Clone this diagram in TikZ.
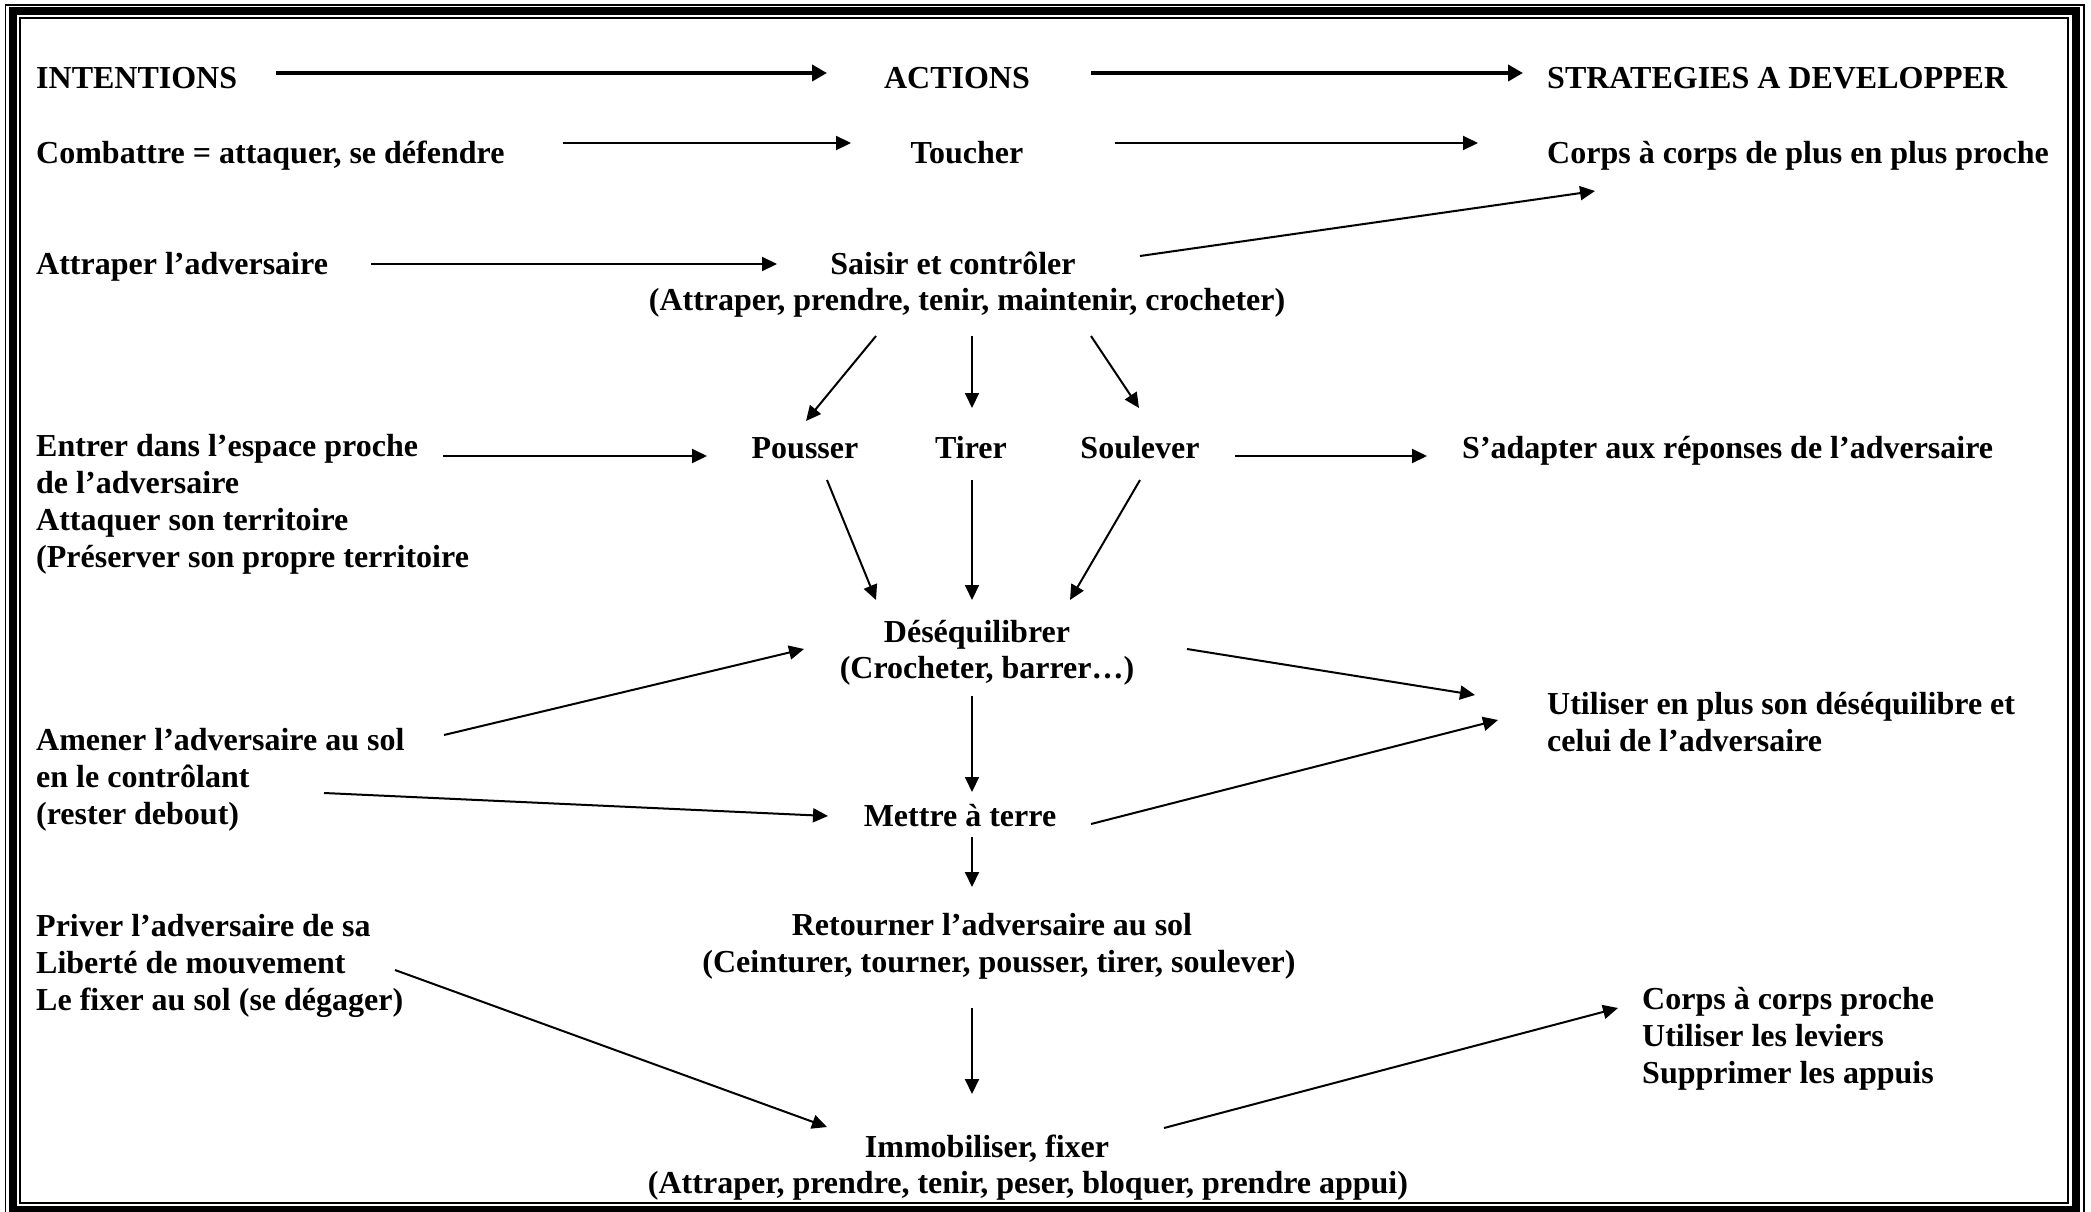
\documentclass[tikz,border=0pt]{standalone}
\usepackage{fontspec}
\setmainfont{Liberation Serif}
\usetikzlibrary{arrows.meta}
\begin{document}
\begin{tikzpicture}[x=1pt,y=-1pt,
  txt/.style={inner sep=0pt, font=\fontsize{32}{36.7}\selectfont\bfseries},
  lft/.style={txt, anchor=base west, align=left},
  ctr/.style={txt, anchor=base},
  arr/.style={line width=2pt, -{Triangle[length=15pt,width=14pt]}},
  bigarr/.style={line width=4.5pt, -{Triangle[length=15pt,width=16pt]}},
  frameline/.style={draw=black}]
\useasboundingbox (0,0) rectangle (2091,1212);
\clip (0,0) rectangle (2091,1212);
% frame
\draw[frameline, line width=1.8pt] (5.5,5) rectangle (2084,1230);
\draw[frameline, line width=8pt] (13,11.5) rectangle (2076,1210);
\draw[frameline, line width=2pt] (20,18) rectangle (2068,1203);
% texts (multi-line nodes: base anchor = baseline of last line)
\node[lft] (int) at (36,89) {INTENTIONS};
\node[ctr] (act) at (957,89) {ACTIONS};
\node[lft] (strat) at (1547,89) {STRATEGIES A DEVELOPPER};
\node[lft] (comb) at (36,164) {Combattre = attaquer, se défendre};
\node[ctr] (touch) at (967,164) {Toucher};
\node[lft] (corps1) at (1547,164) {Corps à corps de plus en plus proche};
\node[lft] (attr) at (36,274) {Attraper l’adversaire};
\node[ctr] (saisir) at (953,274) {Saisir et contrôler};
\node[ctr] (saisir2) at (967,310) {(Attraper, prendre, tenir, maintenir, crocheter)};
\node[lft] (entrer) at (36,567) {Entrer dans l’espace proche\\de l’adversaire\\Attaquer son territoire\\(Préserver son propre territoire};
\node[ctr] (pous) at (805,458) {Pousser};
\node[ctr] (tirer) at (971,458) {Tirer};
\node[ctr] (soul) at (1140,458) {Soulever};
\node[lft] (adapt) at (1462,458) {S’adapter aux réponses de l’adversaire};
\node[ctr] (deseq) at (977,642) {Déséquilibrer};
\node[ctr] (deseq2) at (987,678) {(Crocheter, barrer…)};
\node[lft] (util) at (1547,751) {Utiliser en plus son déséquilibre et\\celui de l’adversaire};
\node[lft] (amener) at (36,824) {Amener l’adversaire au sol\\en le contrôlant\\(rester debout)};
\node[ctr] (mettre) at (960,826) {Mettre à terre};
\node[ctr] (retour) at (992,935) {Retourner l’adversaire au sol};
\node[ctr] (retour2) at (999,972) {(Ceinturer, tourner, pousser, tirer, soulever)};
\node[lft] (priver) at (36,1010) {Priver l’adversaire de sa\\Liberté de mouvement\\Le fixer au sol (se dégager)};
\node[ctr] (immo) at (987,1157) {Immobiliser, fixer};
\node[ctr] (immo2) at (1028,1193) {(Attraper, prendre, tenir, peser, bloquer, prendre appui)};
\node[lft] (corps2) at (1642,1083) {Corps à corps proche\\Utiliser les leviers\\Supprimer les appuis};
% arrows
\draw[bigarr] ([xshift=240pt,yshift=16pt]int.base west) -- ([xshift=-130pt,yshift=16pt]act.base);
\draw[bigarr] ([xshift=134pt,yshift=16pt]act.base) -- ([xshift=-24pt,yshift=16pt]strat.base west);
\draw[arr] ([xshift=527pt,yshift=21pt]comb.base west) -- ([xshift=-116pt,yshift=21pt]touch.base);
\draw[arr] ([xshift=148pt,yshift=21pt]touch.base) -- ([xshift=-69pt,yshift=21pt]corps1.base west);
\draw[arr] ([xshift=335pt,yshift=10pt]attr.base west) -- ([xshift=-176pt,yshift=10pt]saisir.base);
\draw[arr] ([xshift=187pt,yshift=18pt]saisir.base) -- ([xshift=48pt,yshift=-27pt]corps1.base west);
\draw[arr] ([xshift=-91pt,yshift=-26pt]saisir2.base) -- ([xshift=1pt,yshift=37pt]pous.base);
\draw[arr] ([xshift=5pt,yshift=-26pt]saisir2.base) -- ([xshift=1pt,yshift=50pt]tirer.base);
\draw[arr] ([xshift=124pt,yshift=-26pt]saisir2.base) -- ([xshift=-1pt,yshift=50pt]soul.base);
\draw[arr] ([xshift=407pt,yshift=111pt]entrer.base west) -- ([xshift=-98pt,yshift=2pt]pous.base);
\draw[arr] ([xshift=95pt,yshift=2pt]soul.base) -- ([xshift=-35pt,yshift=2pt]adapt.base west);
\draw[arr] ([xshift=22pt,yshift=-22pt]pous.base) -- ([xshift=-101pt,yshift=42pt]deseq.base);
\draw[arr] ([xshift=1pt,yshift=-22pt]tirer.base) -- ([xshift=-5pt,yshift=42pt]deseq.base);
\draw[arr] ([xshift=0pt,yshift=-22pt]soul.base) -- ([xshift=93pt,yshift=42pt]deseq.base);
\draw[arr] ([xshift=210pt,yshift=-7pt]deseq.base) -- ([xshift=-72pt,yshift=56pt]util.base west);
\draw[arr] ([xshift=408pt,yshift=89pt]amener.base west) -- ([xshift=-173pt,yshift=-7pt]deseq.base);
\draw[arr] ([xshift=288pt,yshift=31pt]amener.base west) -- ([xshift=-132pt,yshift=10pt]mettre.base);
\draw[arr] ([xshift=-15pt,yshift=-18pt]deseq2.base) -- ([xshift=12pt,yshift=34pt]mettre.base);
\draw[arr] ([xshift=131pt,yshift=2pt]mettre.base) -- ([xshift=-49pt,yshift=31pt]util.base west);
\draw[arr] ([xshift=12pt,yshift=-11pt]mettre.base) -- ([xshift=-20pt,yshift=48pt]retour.base);
\draw[arr] ([xshift=359pt,yshift=40pt]priver.base west) -- ([xshift=-160pt,yshift=30pt]immo.base);
\draw[arr] ([xshift=-27pt,yshift=-36pt]retour2.base) -- ([xshift=-15pt,yshift=63pt]immo.base);
\draw[arr] ([xshift=177pt,yshift=29pt]immo.base) -- ([xshift=-24pt,yshift=75pt]corps2.base west);
\end{tikzpicture}
\end{document}
